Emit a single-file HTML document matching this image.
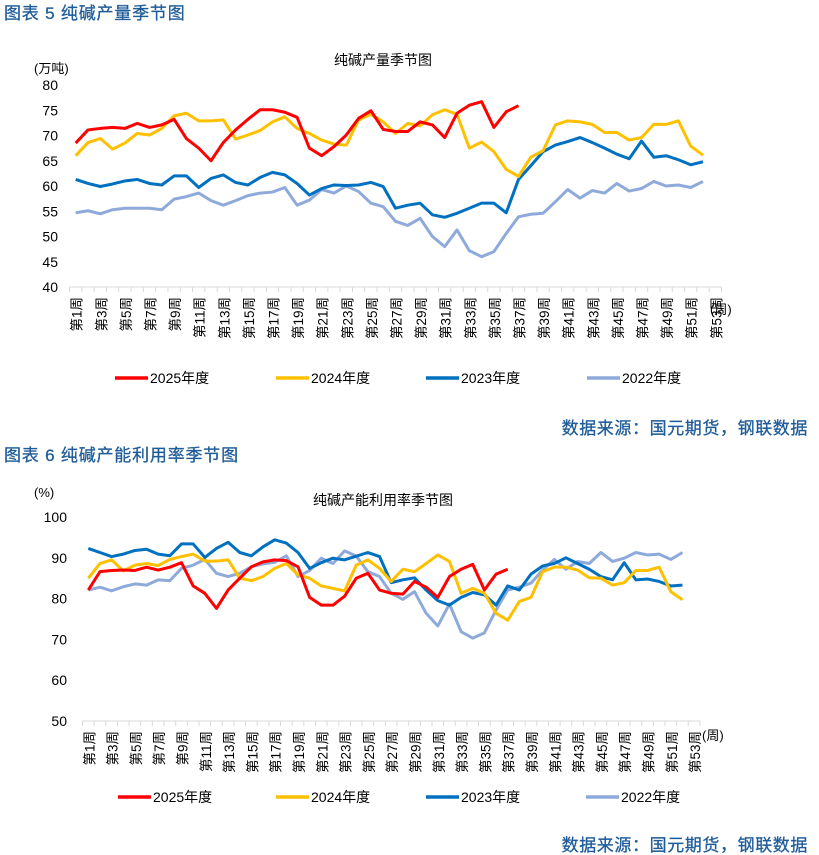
<!DOCTYPE html>
<html><head><meta charset="utf-8">
<style>
body{margin:0;background:#fff;width:819px;height:855px;overflow:hidden;font-family:"Liberation Sans","Noto Sans CJK SC",sans-serif;}
svg{position:absolute;left:0;top:0}
</style></head>
<body>
<svg id="svg" width="819" height="855" viewBox="0 0 819 855">
<text x="4" y="19" font-size="17" font-weight="normal" letter-spacing="0.8" fill="#1f5c99" stroke="#1f5c99" stroke-width="0.3">图表 5 纯碱产量季节图</text>
<text x="383" y="65" font-size="14" text-anchor="middle" fill="#000">纯碱产量季节图</text>
<text x="34" y="73" font-size="13" fill="#000">(万吨)</text>
<text x="808" y="434" font-size="17" letter-spacing="0.6" text-anchor="end" fill="#1f5c99" stroke="#1f5c99" stroke-width="0.3">数据来源：国元期货，钢联数据</text>
<text x="4" y="461" font-size="17" letter-spacing="0.8" fill="#1f5c99" stroke="#1f5c99" stroke-width="0.3">图表 6 纯碱产能利用率季节图</text>
<text x="383" y="505" font-size="14" text-anchor="middle" fill="#000">纯碱产能利用率季节图</text>
<text x="34" y="497" font-size="13" fill="#000">(%)</text>
<text x="808" y="851" font-size="17" letter-spacing="0.6" text-anchor="end" fill="#1f5c99" stroke="#1f5c99" stroke-width="0.3">数据来源：国元期货，钢联数据</text>
</svg>
<script>
const weeks = Array.from({length:53},(_,i)=>i+1);
const seriesNames = ["2025年度","2024年度","2023年度","2022年度"];
const seriesColors = ["#ff0000","#ffc000","#0070c0","#8eaadb"];
const prod2025 = [68.5,71.1,71.4,71.6,71.4,72.4,71.6,72.1,73.2,69.4,67.5,65,68.6,71.1,73.2,75.1,75.1,74.6,73.6,67.5,66,67.8,70.1,73.4,74.9,71.2,70.8,70.8,72.7,72.1,69.6,74.4,76,76.7,71.6,74.7,75.9];
const prod2024 = [66,68.6,69.4,67.3,68.5,70.4,70.1,71.4,73.9,74.4,72.9,72.9,73.1,69.3,70.1,71,72.7,73.7,71.4,70.4,69.1,68.3,68.1,73.1,74.2,72.7,70.4,72.4,71.9,74.1,75.1,74.2,67.5,68.7,66.8,63.3,61.9,65.7,67,72.1,72.9,72.7,72.2,70.6,70.6,69.1,69.6,72.2,72.2,72.9,67.9,66.1];
const prod2023 = [61.3,60.5,59.9,60.4,61,61.3,60.5,60.2,62,62,59.7,61.5,62.2,60.7,60.2,61.7,62.7,62.2,60.5,58.2,59.5,60.2,60.1,60.2,60.7,59.9,55.6,56.2,56.6,54.3,53.8,54.6,55.6,56.6,56.6,54.7,61.3,64,66.8,68.1,68.8,69.6,68.6,67.5,66.3,65.4,68.9,65.7,66,65.2,64.2,64.8];
const prod2022 = [54.7,55.1,54.5,55.3,55.6,55.6,55.6,55.3,57.4,57.9,58.6,57.1,56.2,57.1,58.1,58.6,58.8,59.7,56.2,57.2,59.3,58.6,60,58.9,56.6,55.9,53,52.2,53.6,50,48,51.3,47.2,46,47,50.6,53.9,54.4,54.6,56.9,59.3,57.6,59.1,58.6,60.5,59,59.5,60.9,60,60.2,59.7,60.9];
const util2025 = [82.1,86.6,86.9,87,86.9,87.7,87,87.7,88.8,83.1,81.3,77.6,82.1,85,87.8,89,89.5,89.3,87.8,80.3,78.4,78.4,80.6,85,86.2,82.1,81.3,81.1,84.2,82.8,80.3,85.4,87.2,88.4,82.1,86,87.2];
const util2024 = [85,88.6,89.5,86.8,88.2,88.6,88.1,89.6,90.3,90.9,89.2,89.2,89.5,85,84.4,85.4,87.4,88.6,85.8,85,83.1,82.5,81.9,88.2,89.5,87.4,84.2,87.2,86.6,88.6,90.7,89.1,81.3,82.5,81.3,76.4,74.7,79.3,80.3,86.6,87.7,87.7,87,85.1,85,83.3,83.9,86.9,86.9,87.7,81.7,79.7];
const util2023 = [92.3,91.3,90.3,90.9,91.8,92.1,90.9,90.5,93.4,93.4,90.1,92.3,93.8,91.3,90.5,92.7,94.4,93.6,91.3,87.4,88.8,89.9,89.5,90.4,91.3,90.3,83.9,84.6,85.1,82.1,79.5,78.4,80.3,81.5,80.9,78.4,83.1,82.1,86,88,88.6,90,88.6,87.2,85.4,84.6,88.8,84.6,84.8,84.2,83.1,83.3];
const util2022 = [82.1,82.8,81.9,82.9,83.6,83.3,84.6,84.4,87.4,88.2,89.6,86.2,85.4,86.2,87.8,88.5,88.9,90.5,85.4,86.9,89.9,88.6,91.7,90.4,86.6,85.4,81.3,79.8,81.7,76.4,73.3,78.7,71.9,70.3,71.6,77.2,82.1,82.8,83.8,87,89.6,87.2,89.1,88.6,91.3,89.1,89.9,91.3,90.7,90.9,89.6,91.3];
const ticks1 = [40,45,50,55,60,65,70,75,80];
const ticks2 = [50,60,70,80,90,100];

const NS="http://www.w3.org/2000/svg";
const svg=document.getElementById('svg');
function mk(tag,attrs,parent){const e=document.createElementNS(NS,tag);for(const k in attrs)e.setAttribute(k,attrs[k]);(parent||svg).appendChild(e);return e;}

function drawChart(cfg){
  const g=mk('g',{});
  
  
  const xs=n=>cfg.x0+(n-1)*cfg.dx;
  const ys=v=>cfg.yBot-(v-cfg.vmin)/(cfg.vmax-cfg.vmin)*(cfg.yBot-cfg.yTop);
  cfg.ticks.forEach(t=>{
    const tx=mk('text',{x:cfg.yLabelX,y:ys(t)+5,'font-size':14,'text-anchor':'end',fill:'#000'},g);
    tx.textContent=t;
    
    
  });
  const left=xs(1)-cfg.dx/2, right=xs(53)+cfg.dx/2;
  const ax=mk('line',{x1:left,x2:right,y1:cfg.yBot,y2:cfg.yBot,stroke:'#d9d9d9','stroke-width':1},g);
  
  
  for(let i=0;i<=53;i++){
    const x=left+i*cfg.dx;
    const tk=mk('line',{x1:x,x2:x,y1:cfg.yBot,y2:cfg.yBot+5,stroke:'#d9d9d9','stroke-width':1},g);
    
    
  }
  weeks.forEach(w=>{
    if(w%2===0)return;
    const t=mk('text',{transform:`translate(${xs(w)+6},${cfg.yBot+10}) rotate(-90)`,'font-size':13.5,'text-anchor':'end',fill:'#000'},g);
    t.textContent='第'+w+'周';
    
    
  });
  const u=mk('text',{x:cfg.unitX,y:cfg.unitY,'font-size':13,fill:'#000'},g);
  u.textContent='(周)';
  
  
  const order=[3,2,1,0];
  order.forEach(si=>{
    const d=cfg.series[si];
    const p=mk('polyline',{points:d.map((v,i)=>xs(i+1)+','+ys(v)).join(' '),fill:'none',stroke:seriesColors[si],'stroke-width':3,'stroke-linejoin':'round'},g);
    
    
  });
  const lx=cfg.legendX;
  seriesNames.forEach((nm,si)=>{
    const lg=mk('g',{},g);
    
    
    mk('line',{x1:lx[si],x2:lx[si]+33,y1:cfg.legendY,y2:cfg.legendY,stroke:seriesColors[si],'stroke-width':3.5},lg);
    const t=mk('text',{x:lx[si]+35,y:cfg.legendY+5,'font-size':14,fill:'#000'},lg);
    t.textContent=nm;
  });
}
drawChart({name:'production-chart',x0:75.7,dx:12.3,yTop:85,yBot:287,vmin:40,vmax:80,ticks:ticks1,yLabelX:58,
  series:[prod2025,prod2024,prod2023,prod2022],unitX:710,unitY:314,legendX:[115,276,426,587],legendY:378});
drawChart({name:'utilization-chart',x0:88.3,dx:11.65,yTop:517,yBot:721,vmin:50,vmax:100,ticks:ticks2,yLabelX:67,
  series:[util2025,util2024,util2023,util2022],unitX:702,unitY:740,legendX:[118,276,426,586],legendY:797});
</script>
</body></html>
